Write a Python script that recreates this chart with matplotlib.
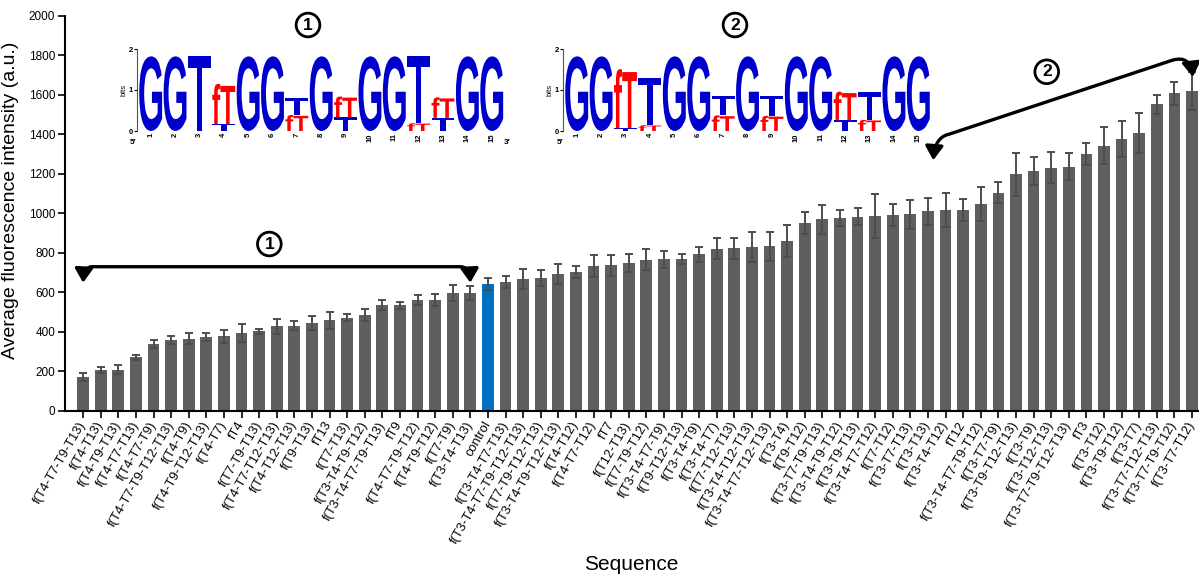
import matplotlib
matplotlib.use("Agg")
import matplotlib.pyplot as plt
import numpy as np
from matplotlib.textpath import TextPath
from matplotlib.patches import PathPatch, FancyArrowPatch
from matplotlib.path import Path
from matplotlib.font_manager import FontProperties
import matplotlib.transforms as mtrans

plt.rcParams['font.family'] = ['Liberation Sans', 'DejaVu Sans']

# ---------------- data ----------------
labels = [
    "f(T4-T7-T9-T13)", "f(T4-T13)", "f(T4-T9-T13)", "f(T4-T7-T13)", "f(T4-T7-T9)",
    "f(T4-T7-T9-T12-T13)", "f(T4-T9)", "f(T4-T9-T12-T13)", "f(T4-T7)", "fT4",
    "f(T7-T9-T13)", "f(T4-T7-T12-T13)", "f(T4-T12-T13)", "f(T9-T13)", "fT13",
    "f(T7-T13)", "f(T3-T4-T9-T12)", "f(T3-T4-T7-T9-T13)", "fT9", "f(T4-T7-T9-T12)",
    "f(T4-T9-T12)", "f(T7-T9)", "f(T3-T4-T13)", "control", "f(T3-T4-T7-T13)",
    "f(T3-T4-T7-T9-T12-T13)", "f(T7-T9-T12-T13)", "f(T3-T4-T9-T12-T13)", "f(T4-T12)", "f(T4-T7-T12)",
    "fT7", "f(T12-T13)", "f(T7-T9-T12)", "f(T3-T4-T7-T9)", "f(T9-T12-T13)",
    "f(T3-T4-T9)", "f(T3-T4-T7)", "f(T7-T12-T13)", "f(T3-T4-T12-T13)", "f(T3-T4-T7-T12-T13)",
    "f(T3-T4)", "f(T9-T12)", "f(T3-T7-T9-T13)", "f(T3-T4-T9-T12)", "f(T3-T9-T13)",
    "f(T3-T4-T7-T12)", "f(T7-T12)", "f(T3-T7-T13)", "f(T3-T13)", "f(T3-T4-T12)",
    "fT12", "f(T3-T4-T7-T9-T12)", "f(T3-T7-T9)", "f(T3-T9-T12-T13)", "f(T3-T9)",
    "f(T3-T12-T13)", "f(T3-T7-T9-T12-T13)", "fT3", "f(T3-T12)", "f(T3-T9-T12)",
    "f(T3-T7)", "f(T3-T7-T12-T13)", "f(T3-T7-T9-T12)", "f(T3-T7-T12)",
]
values = [
    172, 206, 208, 270, 338, 356, 365, 373, 376, 393,
    402, 427, 430, 444, 457, 471, 484, 533, 533, 560,
    560, 596, 597, 641, 650, 668, 672, 690, 702, 731,
    736, 748, 765, 766, 768, 792, 820, 822, 829, 832,
    859, 950, 969, 976, 982, 986, 991, 994, 1009, 1018,
    1018, 1046, 1104, 1197, 1214, 1230, 1235, 1301, 1342, 1376,
    1406, 1551, 1607, 1619,
]
errors = [
    20, 15, 24, 13, 20, 20, 27, 20, 32, 46,
    13, 37, 22, 37, 44, 19, 30, 25, 17, 27,
    30, 42, 34, 29, 30, 52, 39, 51, 30, 56,
    54, 47, 54, 42, 27, 37, 54, 54, 78, 73,
    79, 57, 73, 41, 42, 113, 56, 73, 68, 86,
    56, 88, 54, 108, 71, 79, 69, 56, 93, 91,
    100, 49, 57, 98,
]
highlight = "control"

# sequence logo stacks (bottom -> top): (letter, height in bits)
logo1_stacks = [
    [("G", 1.82)], [("G", 1.82)], [("T", 1.82)],
    [("T", 0.17), ("fT", 0.98)],
    [("G", 1.82)], [("G", 1.82)],
    [("fT", 0.39), ("T", 0.41)],
    [("G", 1.82)],
    [("T", 0.33), ("fT", 0.51)],
    [("G", 1.82)], [("G", 1.82)],
    [("fT", 0.19), ("T", 1.63)],
    [("T", 0.32), ("fT", 0.50)],
    [("G", 1.82)], [("G", 1.82)],
]
logo2_stacks = [
    [("G", 1.82)], [("G", 1.82)],
    [("T", 0.07), ("fT", 1.44)],
    [("fT", 0.14), ("T", 1.16)],
    [("G", 1.82)], [("G", 1.82)],
    [("fT", 0.38), ("T", 0.48)],
    [("G", 1.82)],
    [("fT", 0.37), ("T", 0.49)],
    [("G", 1.82)], [("G", 1.82)],
    [("T", 0.27), ("fT", 0.69)],
    [("fT", 0.27), ("T", 0.67)],
    [("G", 1.82)], [("G", 1.82)],
]

# ---------------- figure ----------------
W, H = 1199, 577
fig = plt.figure(figsize=(W / 100, H / 100), dpi=100)
ax = fig.add_axes([65 / W, (H - 410.7) / H, (W - 65) / W, 395 / H])

x = np.arange(len(values))
colors = ["#0070c0" if l == highlight else "#5f5f5f" for l in labels]
ax.bar(x, values, width=0.665, color=colors, zorder=2)
ax.errorbar(x, values, yerr=errors, fmt="none", ecolor="#4d4d4d",
            elinewidth=1.4, capsize=3, capthick=1.4, zorder=3)

ax.set_xlim(-1.03, 63.4)
ax.set_ylim(0, 2000)
ax.set_yticks(np.arange(0, 2001, 200))
ax.tick_params(axis="y", labelsize=8.5, length=5, width=1.2, direction="out", pad=2)
ax.tick_params(axis="x", length=5, width=1.2, direction="out")
ax.set_xticks(x)
ax.set_xticklabels(labels, rotation=60, ha="right", va="center",
                   rotation_mode="anchor", fontsize=9.3)
for s in ["top", "right"]:
    ax.spines[s].set_visible(False)
for s in ["left", "bottom"]:
    ax.spines[s].set_linewidth(1.5)
ax.set_ylabel("Average fluorescence intensity (a.u.)", fontsize=14)
ax.yaxis.set_label_coords(-(65 - 19) / (W - 65), (410.7 - 200) / 395)
ax.set_xlabel("Sequence", fontsize=15)
ax.xaxis.set_label_coords((631 - 65) / (W - 65), -(565 - 410.7) / 395, transform=None) if False else None
ax.xaxis.set_label_coords((631 - 65) / (W - 65), -(565 - 410.7) / 395)
ax.xaxis.label.set_va("center")

# ---------------- arrows & circled numbers ----------------
astyle = "<|-|>,head_length=0.7,head_width=0.45"
p1 = Path([(0.0, 648), (0.05, 729), (0.5, 729), (21.45, 729), (21.95, 729), (22.0, 648)],
          [Path.MOVETO, Path.CURVE3, Path.CURVE3, Path.LINETO, Path.CURVE3, Path.CURVE3])
ax.add_patch(FancyArrowPatch(path=p1, arrowstyle=astyle, mutation_scale=12,
                             color="black", lw=2.4, zorder=5, shrinkA=0, shrinkB=0))
p2 = Path([(48.3, 1268), (48.4, 1385), (49.2, 1400), (61.9, 1775), (62.9, 1800), (63.05, 1690)],
          [Path.MOVETO, Path.CURVE3, Path.CURVE3, Path.LINETO, Path.CURVE3, Path.CURVE3])
ax.add_patch(FancyArrowPatch(path=p2, arrowstyle=astyle, mutation_scale=12,
                             color="black", lw=2.4, zorder=5, shrinkA=0, shrinkB=0))

circ = dict(boxstyle="circle,pad=0.25", fc="white", ec="black", lw=2.0)
ax.text(10.58, 844, "1", fontsize=12.5, fontweight="bold", ha="center", va="center", bbox=circ, zorder=6)
ax.text(54.75, 1716, "2", fontsize=12.5, fontweight="bold", ha="center", va="center", bbox=circ, zorder=6)
fig.text(308 / W, 1 - 25 / H, "1", fontsize=12.5, fontweight="bold", ha="center", va="center", bbox=circ)
fig.text(735 / W, 1 - 25 / H, "2", fontsize=12.5, fontweight="bold", ha="center", va="center", bbox=circ)

# ---------------- sequence logos ----------------
fp = FontProperties(family="Liberation Sans", weight="bold")
letter_color = {"G": "#0000cc", "T": "#0000cc", "fT": "#ff0000"}


def draw_glyph(lax, s, x0, y0, w, h, color):
    if h <= 0:
        return
    tp = TextPath((0, 0), s, size=1, prop=fp)
    bb = tp.get_extents()
    t = (mtrans.Affine2D().translate(-bb.x0, -bb.y0)
         .scale(w / bb.width, h / bb.height).translate(x0, y0))
    lax.add_patch(PathPatch(t.transform_path(tp), fc=color, ec="none", lw=0))


def draw_logo(rect, stacks):
    lax = fig.add_axes(rect)
    lax.set_xlim(0.5, len(stacks) + 0.5)
    lax.set_ylim(0, 2)
    for i, stack in enumerate(stacks):
        y = 0.0
        for letter, hgt in stack:
            draw_glyph(lax, letter, i + 1 - 0.47, y, 0.94, hgt, letter_color[letter])
            y += hgt
    for s in ["top", "right", "bottom"]:
        lax.spines[s].set_visible(False)
    lax.spines["left"].set_linewidth(0.8)
    lax.spines["left"].set_color("#555555")
    lax.spines["left"].set_position(("outward", 1))
    lax.set_yticks([0, 1, 2])
    lax.set_yticklabels(["0", "1", "2"], fontsize=5.5, fontweight="bold")
    lax.tick_params(axis="y", length=2, width=0.8, pad=1)
    lax.set_xticks(np.arange(1, len(stacks) + 1))
    lax.set_xticklabels([str(i) for i in range(1, len(stacks) + 1)], rotation=90,
                        fontsize=5.5, fontweight="bold")
    lax.tick_params(axis="x", length=0, pad=1.5)
    lax.set_ylabel("bits", fontsize=5.5, labelpad=1)
    lax.patch.set_alpha(0)
    return lax


l1 = draw_logo([138.5 / W, 1 - 131 / H, 365.4 / W, 82 / H], logo1_stacks)
l2 = draw_logo([564.5 / W, 1 - 131 / H, 366 / W, 82 / H], logo2_stacks)
fig.text(133 / W, 1 - 142 / H, "5\u2032", fontsize=6, fontweight="bold", ha="center", va="center")
fig.text(507 / W, 1 - 142 / H, "3\u2032", fontsize=6, fontweight="bold", ha="center", va="center")
fig.text(560 / W, 1 - 142 / H, "5\u2032", fontsize=6, fontweight="bold", ha="center", va="center")

fig.savefig("out.png", dpi=100)
